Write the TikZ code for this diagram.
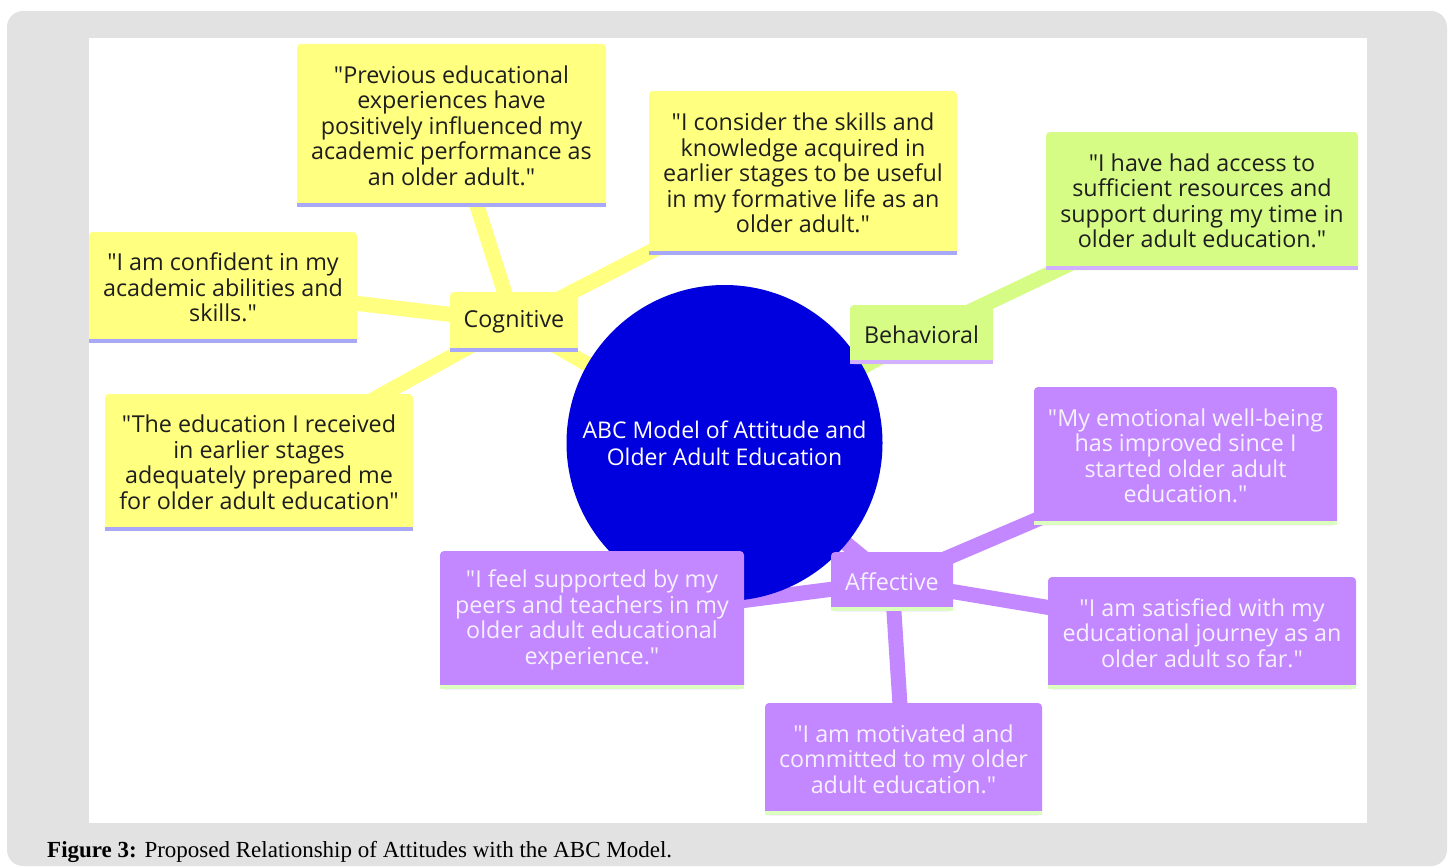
\documentclass[tikz,border=0pt]{standalone}
\usepackage{fontspec}
\setmainfont{Open Sans}[Ligatures=TeXOff]
\newfontfamily\peufont{Liberation Serif}

\definecolor{gris}{RGB}{226,226,226}
\definecolor{groc}{RGB}{255,255,128}
\definecolor{verd}{RGB}{214,252,134}
\definecolor{lila}{RGB}{195,135,255}
\definecolor{blau}{RGB}{0,0,222}
\definecolor{liniagroc}{RGB}{168,168,250}
\definecolor{liniaverd}{RGB}{208,176,255}
\definecolor{linialila}{RGB}{220,255,192}
\definecolor{textfosc}{RGB}{30,30,30}
\definecolor{textclar}{RGB}{246,240,255}

\pgfdeclarelayer{fons}
\pgfdeclarelayer{branques}
\pgfsetlayers{fons,branques,main}

\begin{document}
\begin{tikzpicture}[x=1pt,y=-1pt,
		caixa/.style={rectangle, rounded corners=4pt, inner sep=0pt, align=center,
			font=\fontsize{23.3}{25.5}\selectfont},
		cog/.style={caixa, fill=groc, text=textfosc},
		beh/.style={caixa, fill=verd, text=textfosc},
		afe/.style={caixa, fill=lila, text=textclar},
		branca/.style={line width=15pt}]
	
	\useasboundingbox (0,0) rectangle (1450,867);
	
	% Fons
	\begin{pgfonlayer}{fons}
		\fill[gris, rounded corners=16pt] (7,11) rectangle (1447,866);
		\fill[white] (89,38) rectangle (1367,823);
	\end{pgfonlayer}
	
	% Cercle central
	\node[circle, fill=blau, minimum size=316pt, inner sep=0pt, align=center,
		text=white, font=\fontsize{23}{27}\selectfont] (abc) at (724.5,443)
		{ABC Model of Attitude and\\Older Adult Education};
	
	% Branca cognitiva
	\node[cog, minimum width=128pt, minimum height=60pt] (cognitive) at (514,322) {Cognitive};
	\node[cog, minimum width=309pt, minimum height=163pt] (previous) at (451.5,125.5)
		{"Previous educational\\experiences have\\positively influenced my\\academic performance as\\an older adult."};
	\node[cog, minimum width=308pt, minimum height=164pt] (skills) at (803,173)
		{"I consider the skills and\\knowledge acquired in\\earlier stages to be useful\\in my formative life as an\\older adult."};
	\node[cog, minimum width=268pt, minimum height=111pt] (confident) at (223,287.5)
		{"I am confident in my\\academic abilities and\\skills."};
	\node[cog, minimum width=308pt, minimum height=137pt] (received) at (259,462.5)
		{"The education I received\\in earlier stages\\adequately prepared me\\for older adult education"};
	
	% Branca conductual
	\node[beh, minimum width=143pt, minimum height=59pt] (behavioral) at (921.5,334.5) {Behavioral};
	\node[beh, minimum width=312pt, minimum height=138pt] (access) at (1202,201)
		{"I have had access to\\sufficient resources and\\support during my time in\\older adult education."};
	
	% Branca afectiva
	\node[afe, minimum width=122pt, minimum height=59pt] (affective) at (892,581.5) {Affective};
	\node[afe, minimum width=303pt, minimum height=138pt] (wellbeing) at (1185.5,456)
		{"My emotional well-being\\has improved since I\\started older adult\\education."};
	\node[afe, minimum width=308pt, minimum height=112pt] (satisfied) at (1202,633)
		{"I am satisfied with my\\educational journey as an\\older adult so far."};
	\node[afe, minimum width=304pt, minimum height=138pt] (supported) at (592,620)
		{"I feel supported by my\\peers and teachers in my\\older adult educational\\experience."};
	\node[afe, minimum width=277pt, minimum height=112pt] (motivated) at (903.5,759)
		{"I am motivated and\\committed to my older\\adult education."};
	
	% Branques
	\begin{pgfonlayer}{branques}
		\foreach \a/\b/\c in {cognitive/abc/groc, cognitive/previous/groc, cognitive/skills/groc,
			cognitive/confident/groc, cognitive/received/groc,
			behavioral/abc/verd, behavioral/access/verd,
			affective/abc/lila, affective/wellbeing/lila, affective/satisfied/lila,
			affective/supported/lila, affective/motivated/lila}
		\draw[branca, \c] (\a.center) -- (\b.center);
	\end{pgfonlayer}
	
	% Linies inferiors
	\foreach \n/\c in {cognitive/liniagroc, previous/liniagroc, skills/liniagroc,
		confident/liniagroc, received/liniagroc,
		behavioral/liniaverd, access/liniaverd,
		affective/linialila, wellbeing/linialila, satisfied/linialila,
		supported/linialila, motivated/linialila}
	\fill[\c] (\n.south west) rectangle ([yshift=4pt]\n.south east);
	
	% Peu de figura
	\node[anchor=base west, inner sep=0pt, font=\peufont\fontsize{23}{27}\selectfont] (peu) at (47,857)
		{\textbf{Figure 3:} Proposed Relationship of Attitudes with the ABC Model.};
	
\end{tikzpicture}
\end{document}
